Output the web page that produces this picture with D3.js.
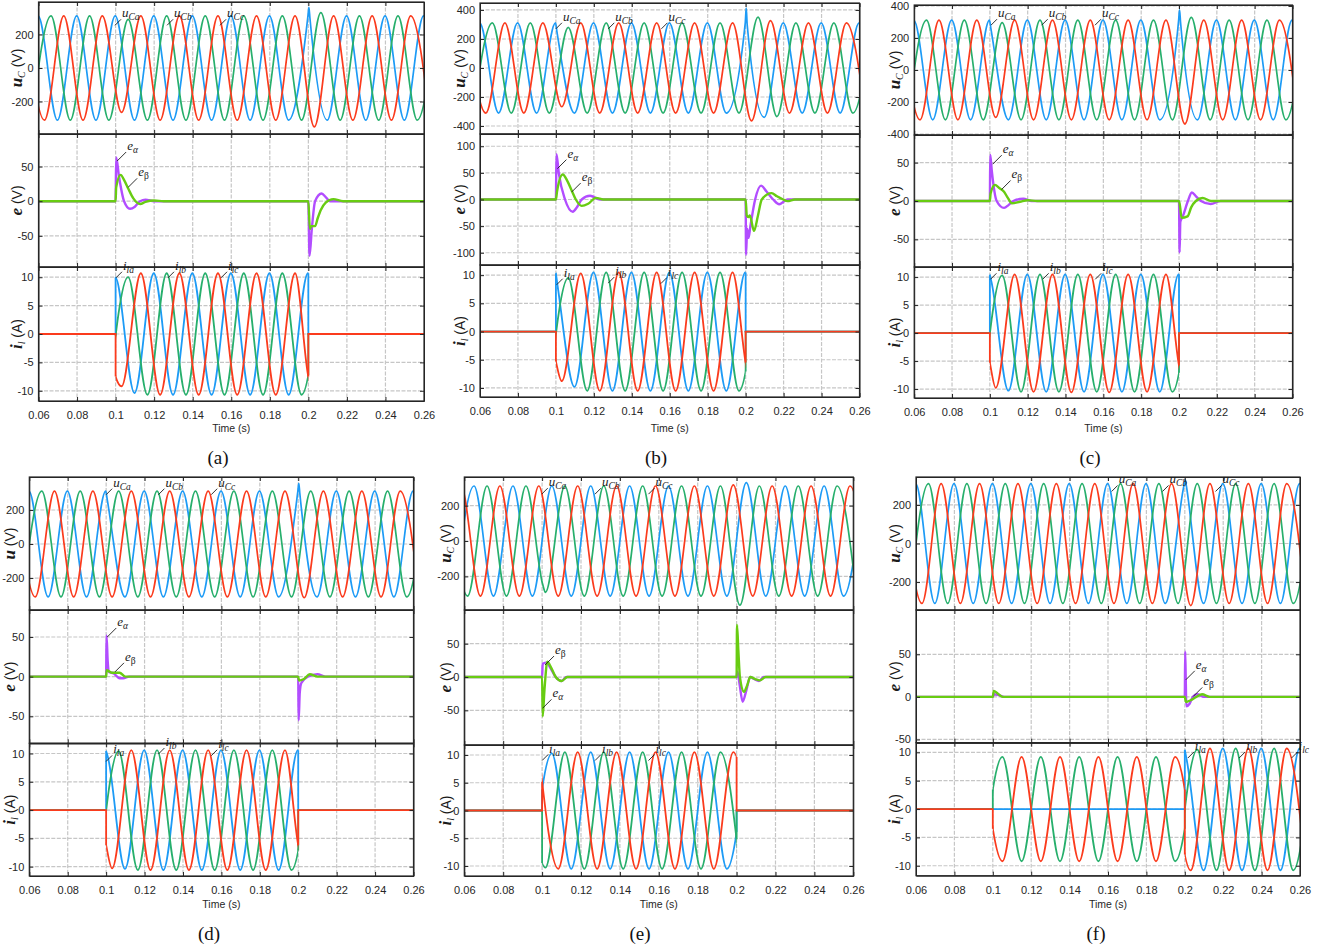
<!DOCTYPE html>
<html>
<head>
<meta charset="utf-8">
<script src="https://cdn.jsdelivr.net/npm/d3@7"></script>
<style>
  body { margin: 0; background: #fff; }
  svg { display: block; font-family: "Liberation Sans", Arial, Helvetica, sans-serif; }
  .tick text { font-size: 11px; fill: #262626; }
  .tick line, .domain { stroke: #262626; }
  .grid line { stroke: #c6c6c6; stroke-width: 1.2; stroke-dasharray: 4 1.5; }
  .box { fill: none; stroke: #262626; stroke-width: 1.2; }
  .note { font-family: "Liberation Serif", "Times New Roman", serif; font-style: italic; font-size: 13px; fill: #1a1a1a; }
  .leader { stroke: #1a1a1a; stroke-width: 0.9; }
  .ylab { font-size: 14px; fill: #1a1a1a; }
  .ylab .sym { font-family: "Liberation Serif", serif; font-weight: bold; font-style: italic; font-size: 17px; }
  .ylab .ysub { font-family: "Liberation Serif", serif; font-style: italic; font-size: 10px; }
  .xlab { font-size: 10.5px; fill: #262626; }
  .letter { font-family: "Liberation Serif", "Times New Roman", serif; font-size: 19px; fill: #111; }
</style>
</head>
<body>
<svg id="fig" width="1333" height="949"></svg>
<script>
const HALF = 0.01; // half period of the 50 Hz supply (s): extremes below are one every HALF
const T_DOMAIN = [0.06, 0.26];
const T_TICKS = [0.06, 0.08, 0.1, 0.12, 0.14, 0.16, 0.18, 0.2, 0.22, 0.24, 0.26];
const I_TICKS = [-10, -5, 0, 5, 10];

// time of the first listed extreme for phase a, b, c
const uT0 = [0.0498, 0.0565, 0.0531];
const uT0_e = [0.055, 0.0517, 0.0483];
const iT0 = [0.0898, 0.0965, 0.0931];
const iT0_e = [0.095, 0.0917, 0.0983];

// ---- capacitor voltages u_C (V), half-cycle extremes ----
const uCa_a = [-311, 311, -311, 311, -311, 311, -311, 311, -311, 311, -311, 311, -311, 311, -311, 311, -311, 311, -311, 311, -311, 311, -311];
const uCb_a = [-311, 311, -311, 311, -311, 290, -311, 311, -311, 311, -311, 311, -311, 311, -311, 330, -311, 311, -311, 311, -311, 311];
const uCc_a = [311, -311, 311, -311, 311, -265, 311, -311, 311, -311, 311, -311, 311, -311, 311, -352, 311, -311, 311, -311, 311, -311];
const uKick_a = [[0, 0.2003, 362], [0, 0.2008, 300]]; // [phase, t, u] spikes / notches

const uCa_b = [-311, 311, -311, 311, -311, 311, -311, 311, -311, 311, -311, 311, -311, 311, -311, 311, -340, 311, -311, 311, -311, 311, -311];
const uCb_b = [-311, 311, -311, 311, -311, 280, -311, 311, -311, 311, -311, 311, -311, 311, -311, 350, -335, 311, -311, 311, -311, 311];
const uCc_b = [311, -311, 311, -311, 311, -267, 311, -311, 311, -311, 311, -311, 311, -311, 311, -365, 326, -311, 311, -311, 311, -311];
const uKick_b = [[0, 0.1006, 245], [0, 0.2003, 412], [0, 0.2008, 300]];

const uCa_c = [-311, 311, -311, 311, -311, 311, -311, 311, -311, 311, -311, 311, -311, 311, -311, 311, -311, 311, -311, 311, -311, 311, -311];
const uCb_c = [-311, 311, -311, 311, -311, 296, -311, 311, -311, 311, -311, 311, -311, 311, -311, 329, -311, 311, -311, 311, -311, 311];
const uCc_c = [311, -311, 311, -311, 311, -296, 311, -311, 311, -311, 311, -311, 311, -311, 311, -337, 311, -311, 311, -311, 311, -311];
const uKick_c = [[0, 0.1006, 255], [0, 0.2003, 375], [0, 0.2008, 300]];

const uCa_d = [-311, 311, -311, 311, -311, 311, -311, 311, -311, 311, -311, 311, -311, 311, -311, 311, -311, 311, -311, 311, -311, 311, -311];
const uCb_d = [-311, 311, -311, 311, -311, 311, -311, 311, -311, 311, -311, 311, -311, 311, -311, 311, -311, 311, -311, 311, -311, 311];
const uCc_d = [311, -311, 311, -311, 311, -311, 311, -311, 311, -311, 311, -311, 311, -311, 311, -316, 311, -311, 311, -311, 311, -311];
const uKick_d = [[0, 0.1006, 259], [0, 0.2003, 357], [0, 0.2008, 300]];

const uCa_e = [-311, 311, -311, 311, -311, 311, -311, 311, -311, 311, -311, 311, -311, 311, -311, 330, -311, 311, -311, 311, -311, 311];
const uCb_e = [311, -311, 311, -311, 311, -290, 311, -311, 311, -311, 311, -311, 311, -311, 311, -363, 311, -311, 311, -311, 311, -311];
const uCc_e = [-311, 311, -311, 311, -311, 311, -311, 311, -311, 311, -311, 311, -311, 311, -311, 318, -311, 311, -311, 311, -311, 311, -311];
const uKick_e = [[1, 0.1003, -245]];

const uCa_f = [-311, 311, -311, 311, -311, 311, -311, 311, -311, 311, -311, 311, -311, 311, -311, 311, -311, 311, -311, 311, -311, 311, -311];
const uCb_f = [-311, 311, -311, 311, -311, 311, -311, 311, -311, 311, -311, 311, -311, 311, -311, 311, -311, 311, -311, 311, -311, 311];
const uCc_f = [311, -311, 311, -311, 311, -311, 311, -311, 311, -311, 311, -311, 311, -311, 311, -322, 311, -311, 311, -311, 311, -311];
const uKick_f = [[0, 0.2003, 330], [0, 0.2008, 300]];

// ---- errors e_alpha (purple) / e_beta (green), [t, V] ----
const eA_a = [[0.06,0],[0.1,0],[0.1003,63],[0.1018,35],[0.1044,0],[0.1075,-11],[0.11,-8],[0.1127,0],[0.1155,2],[0.12,0],[0.2,0],[0.2006,-79],[0.2018,-40],[0.2035,0],[0.2069,11],[0.209,6],[0.2112,0],[0.26,0]];
const eB_a = [[0.06,0],[0.1,0],[0.1003,20],[0.1026,38],[0.1045,30],[0.1066,18],[0.1092,4],[0.1127,-4],[0.1155,-1],[0.12,1],[0.125,0],[0.2,0],[0.2008,-40],[0.2015,-36],[0.2035,-36],[0.2048,-25],[0.2064,-13],[0.209,-2],[0.213,3],[0.218,0],[0.26,0]];
const eA_b = [[0.06,0],[0.1,0],[0.1003,85],[0.1015,50],[0.1048,0],[0.1089,-23],[0.111,-15],[0.1136,0],[0.118,7],[0.1232,0],[0.2,0],[0.2002,-104],[0.2008,-55],[0.2015,-72],[0.2025,-50],[0.205,0],[0.2081,26],[0.211,15],[0.2145,0],[0.2177,-9],[0.222,0],[0.26,0]];
const eB_b = [[0.06,0],[0.1,0],[0.1006,15],[0.1036,47],[0.106,35],[0.1083,17],[0.1105,0],[0.1136,-12],[0.117,-8],[0.1211,3],[0.125,0],[0.2,0],[0.2006,-30],[0.2014,-33],[0.2022,-30],[0.2044,-59],[0.2065,-30],[0.2085,0],[0.2137,12],[0.2165,6],[0.2198,0],[0.222,-3],[0.226,0],[0.26,0]];
const eA_c = [[0.06,0],[0.1,0],[0.1002,60],[0.101,40],[0.1036,0],[0.1075,-9],[0.11,-5],[0.1124,0],[0.1177,3],[0.122,0],[0.2,0],[0.2003,-67],[0.2007,-27],[0.202,-20],[0.2047,0],[0.2068,11],[0.209,6],[0.2116,0],[0.2168,-4],[0.222,0],[0.26,0]];
const eB_c = [[0.06,0],[0.1,0],[0.1004,10],[0.1027,21],[0.105,17],[0.1075,12],[0.1095,4],[0.1116,-3],[0.1159,-1],[0.12,1],[0.125,0],[0.2,0],[0.2007,-10],[0.2013,-22],[0.2045,-20],[0.2065,-8],[0.2089,0],[0.2125,4],[0.217,0],[0.26,0]];
const eA_d = [[0.06,0],[0.1,0],[0.1002,52],[0.1008,20],[0.1014,6],[0.104,4],[0.107,-2],[0.1089,-2],[0.112,0],[0.2,0],[0.2002,-55],[0.2008,-20],[0.2016,-8],[0.205,0],[0.21,3],[0.214,0],[0.26,0]];
const eB_d = [[0.06,0],[0.1,0],[0.1003,8],[0.103,5],[0.107,5],[0.11,0],[0.2,0],[0.2004,-5],[0.203,-3],[0.206,3],[0.21,0],[0.26,0]];
const eA_e = [[0.06,0],[0.1,0],[0.1003,20],[0.1025,22],[0.104,15],[0.107,0],[0.11,-6],[0.1125,0],[0.2,0],[0.2004,8],[0.2015,-10],[0.2031,-37],[0.205,-20],[0.207,0],[0.209,-3],[0.2115,-6],[0.214,0],[0.26,0]];
const eB_e = [[0.06,0],[0.1,0],[0.1003,-59],[0.1012,-20],[0.1027,23],[0.1045,15],[0.107,0],[0.11,-6],[0.113,0],[0.2,0],[0.2002,78],[0.2009,40],[0.2017,0],[0.2038,-22],[0.2055,-12],[0.207,0],[0.2095,-3],[0.212,-5],[0.215,0],[0.26,0]];
const eA_f = [[0.06,0],[0.1,0],[0.1005,3],[0.103,2],[0.106,0],[0.2,0],[0.2002,53],[0.2005,20],[0.2008,-11],[0.2025,-8],[0.2042,0],[0.2065,3],[0.21,0],[0.26,0]];
const eB_f = [[0.06,0],[0.1,0],[0.1005,7],[0.1025,4],[0.1052,0],[0.2,0],[0.2006,-6],[0.203,-4],[0.206,0],[0.209,3],[0.213,0],[0.26,0]];

// ---- load currents i_l (A), half-cycle extremes while the load is connected ----
const ila_a = [-10.7, 10.0, -10.4, 10.7, -10.7, 10.7, -10.7, 10.7, -10.7, 10.7, -10.7, 10.7, -10.7];
const ilb_a = [-10.7, 10.0, -10.7, 10.7, -10.7, 10.7, -10.7, 10.7, -10.7, 10.7, -10.7, 10.7];
const ilc_a = [10.7, -9.2, 10.7, -10.7, 10.7, -10.7, 10.7, -10.7, 10.7, -10.7, 10.7, -10.7];
const iKick_a = [[2, 0.1, -7.5], [2, 0.2, -7.5]];

const ila_b = [-10.5, 10.5, -9.8, 10.5, -10.5, 10.5, -10.5, 10.5, -10.5, 10.5, -10.5, 10.5, -10.5];
const ilb_b = [-10.5, 9.5, -10.5, 10.5, -10.5, 10.5, -10.5, 10.5, -10.5, 10.5, -10.5, 10.5];
const ilc_b = [10.5, -8.8, 10.3, -10.5, 10.5, -10.5, 10.5, -10.5, 10.5, -10.5, 10.5, -10.5];
const iKick_b = [[0, 0.1008, 8.3], [2, 0.1, -5.3], [2, 0.2, -5.5]];

const ila_c = [-10.5, 10.5, -10.3, 10.5, -10.5, 10.5, -10.5, 10.5, -10.5, 10.5, -10.5, 10.5, -10.5];
const ilb_c = [-10.5, 10.3, -10.5, 10.5, -10.5, 10.5, -10.5, 10.5, -10.5, 10.5, -10.5, 10.5];
const ilc_c = [10.5, -9.8, 10.5, -10.5, 10.5, -10.6, 10.5, -10.6, 10.5, -10.5, 10.5, -10.5];
const iKick_c = [[0, 0.1008, 9.2], [2, 0.1, -5.3], [2, 0.2, -5.8]];

const ila_d = [-10.5, 10.5, -10.4, 10.6, -10.6, 10.6, -10.6, 10.6, -10.6, 10.6, -10.6, 10.6, -10.6];
const ilb_d = [-10.6, 10.4, -10.6, 10.6, -10.6, 10.6, -10.6, 10.6, -10.6, 10.6, -10.6, 10.6];
const ilc_d = [10.6, -10.3, 10.6, -10.6, 10.6, -10.6, 10.6, -10.6, 10.6, -10.6, 10.6, -10.6];
const iKick_d = [[0, 0.1008, 9.5], [2, 0.1, -6.2], [2, 0.2, -6.2]];

const ila_e = [-10.5, 10.3, -10.5, 10.5, -10.5, 10.5, -10.5, 10.5, -10.5, 10.5, -10.5, 10.5];
const ilb_e = [10.5, -10.3, 10.5, -10.5, 10.5, -10.5, 10.5, -10.5, 10.5, -10.5, 10.5, -10.5];
const ilc_e = [10.5, -10.5, 10.5, -10.5, 10.5, -10.5, 10.5, -10.5, 10.5, -10.5, 10.5, -10.5];
const iKick_e = [];

// (f): single-phase load b-c from 0.1 s, three-phase load from 0.2 s
const ila_f = [-10.7, 10.5, -10.8, 10.7, -10.8, 10.7, -10.8, 10.7, -10.7];
const ilb_f1 = [-9.2, 9.2, -9.2, 9.2, -9.2, 9.2, -9.2, 9.2, -9.2, 9.2, -9.2, 9.2];
const ilc_f1 = [9.2, -9.2, 9.2, -9.2, 9.2, -9.2, 9.2, -9.2, 9.2, -9.2, 9.2, -9.2];
const ilb_f2 = [-10.7, 10.5, -10.8, 10.7, -10.8, 10.7, -10.8, 10.7];
const ilc_f2 = [10.7, -10.8, 10.7, -10.8, 10.7, -10.8, 10.7, -10.8];
const iKick_f = [[0, 0.2008, 9.0]];

const PHASE_COLORS = ["#1d9bf6", "#27af6c", "#fb3b1d"];
const E_COLORS = ["#b24dff", "#68cc12"];

function threePhase(t0, vals, kick, win) {
  return vals.map((ext, ph) => ({ ph, t0: t0[ph], ext, win, kick: kick.filter(k => k[0] === ph) }));
}

const panels = [
  { key: "a", x: [38.5, 424], rows: [[2, 134], [134, 267], [267, 401]],
    uDom: [-394, 394], uTicks: [-200, 0, 200], eDom: [-95, 97], eTicks: [-50, 0, 50], iDom: [-11.8, 11.8],
    u: [uCa_a, uCb_a, uCc_a], uT0: uT0, uKick: uKick_a, e: [eA_a, eB_a],
    i: threePhase(iT0, [ila_a, ilb_a, ilc_a], iKick_a, [0.1, 0.2]),
    uName: "C", labX: 17, timeY: 428, letter: [218, 457],
    uNote: [0.0997, 0.1267, 0.1542], uNoteV: 255,
    eNote: [[0.1008, 58, "α"], [0.1065, 20, "β"]],
    iNote: [[0.1002, 9.9], [0.1272, 9.9], [0.1547, 9.9]] },
  { key: "b", x: [480, 859.5], rows: [[3, 134], [134, 265], [265, 397]],
    uDom: [-455, 448], uTicks: [-400, -200, 0, 200, 400], eDom: [-123, 123], eTicks: [-100, -50, 0, 50, 100], iDom: [-11.6, 11.8],
    u: [uCa_b, uCb_b, uCc_b], uT0: uT0, uKick: uKick_b, e: [eA_b, eB_b],
    i: threePhase(iT0, [ila_b, ilb_b, ilc_b], iKick_b, [0.1, 0.2]),
    uName: "C", labX: 460, timeY: 428, letter: [656, 457],
    uNote: [0.1, 0.1276, 0.1556], uNoteV: 270,
    eNote: [[0.1008, 58, "α"], [0.1083, 14, "β"]],
    iNote: [[0.1004, 8.3], [0.1276, 8.6], [0.1553, 8.5]] },
  { key: "c", x: [914.2, 1292.5], rows: [[5, 135], [135, 267], [267, 398]],
    uDom: [-406, 406], uTicks: [-400, -200, 0, 200, 400], eDom: [-86, 86], eTicks: [-50, 0, 50], iDom: [-11.6, 11.8],
    u: [uCa_c, uCb_c, uCc_c], uT0: uT0, uKick: uKick_c, e: [eA_c, eB_c],
    i: threePhase(iT0, [ila_c, ilb_c, ilc_c], iKick_c, [0.1, 0.2]),
    uName: "C", labX: 895, timeY: 428, letter: [1090, 457],
    uNote: [0.1006, 0.1274, 0.1556], uNoteV: 280,
    eNote: [[0.1015, 48, "α"], [0.1062, 15, "β"]],
    iNote: [[0.1003, 9.6], [0.1279, 9.6], [0.1557, 9.6]] },
  { key: "d", x: [29.3, 413.5], rows: [[477, 610], [610, 743.3], [743.3, 876]],
    uDom: [-388, 394], uTicks: [-200, 0, 200], eDom: [-84, 84], eTicks: [-50, 0, 50], iDom: [-11.65, 11.8],
    u: [uCa_d, uCb_d, uCc_d], uT0: uT0, uKick: uKick_d, e: [eA_d, eB_d],
    i: threePhase(iT0, [ila_d, ilb_d, ilc_d], iKick_d, [0.1, 0.2]),
    uName: "", labX: 10, timeY: 904.5, letter: [209, 933],
    uNote: [0.1, 0.1272, 0.1547], uNoteV: 290,
    eNote: [[0.1006, 50, "α"], [0.1046, 6, "β"]],
    iNote: [[0.1, 8.6], [0.1272, 9.9], [0.1547, 9.6]] },
  { key: "e", x: [464.3, 853.3], rows: [[477, 610], [610, 745], [745, 876]],
    uDom: [-390, 362], uTicks: [-200, 0, 200], eDom: [-102, 100.6], eTicks: [-50, 0, 50], iDom: [-11.8, 11.8],
    u: [uCa_e, uCb_e, uCc_e], uT0: uT0_e, uKick: uKick_e, e: [eA_e, eB_e],
    i: threePhase(iT0_e, [ila_e, ilb_e, ilc_e], iKick_e, [0.1, 0.2]),
    uName: "C", labX: 446, timeY: 904.5, letter: [640, 933],
    uNote: [0.0998, 0.1272, 0.1547], uNoteV: 265,
    eNote: [[0.1015, 18, "β"], [0.1002, -47, "α"]],
    iNote: [[0.1, 9], [0.1272, 9], [0.1547, 9]] },
  { key: "f", x: [916, 1300], rows: [[477, 610], [610, 742.7], [742.7, 875.7]],
    uDom: [-345, 345], uTicks: [-200, 0, 200], eDom: [-53.8, 102], eTicks: [-50, 0, 50], iDom: [-11.75, 11.7],
    u: [uCa_f, uCb_f, uCc_f], uT0: uT0, uKick: uKick_f, e: [eA_f, eB_f],
    i: [
      { ph: 0, t0: 0.1898, ext: ila_f, win: [0.2, 0.26], kick: iKick_f.filter(k => k[0] === 0) },
      { ph: 1, t0: 0.095, ext: ilb_f1, win: [0.1, 0.2], kick: [] },
      { ph: 1, t0: 0.1965, ext: ilb_f2, win: [0.2, 0.26], kick: [] },
      { ph: 2, t0: 0.095, ext: ilc_f1, win: [0.1, 0.2], kick: [] },
      { ph: 2, t0: 0.1931, ext: ilc_f2, win: [0.2, 0.26], kick: [] }
    ],
    uName: "C", labX: 895, timeY: 904.5, letter: [1096, 933],
    uNote: [0.1619, 0.1884, 0.216], uNoteV: 270,
    eNote: [[0.2005, 20, "α"], [0.2044, 0.5, "β"]],
    iNote: [[0.2016, 9], [0.2283, 9], [0.2556, 9]] }
];

const svg = d3.select("#fig");
const defs = svg.append("defs");
const straight = d3.line();
const byTime = (a, b) => a[0] - b[0];

panels.forEach(drawPanel);

function drawPanel(p) {
  const g = svg.append("g").attr("class", "panel-" + p.key);
  const x = d3.scaleLinear().domain(T_DOMAIN).range(p.x);
  const ys = [p.uDom, p.eDom, p.iDom].map((dom, r) =>
    d3.scaleLinear().domain(dom).range([p.rows[r][1], p.rows[r][0]]));
  const yTicks = [p.uTicks, p.eTicks, I_TICKS];

  // grid + clip for each subplot
  const clips = ys.map((y, r) => {
    const gg = g.append("g").attr("class", "grid");
    gg.selectAll(".v").data(T_TICKS.slice(1, -1)).join("line")
      .attr("x1", d => x(d)).attr("x2", d => x(d)).attr("y1", p.rows[r][0]).attr("y2", p.rows[r][1]);
    gg.selectAll(".h").data(yTicks[r]).join("line")
      .attr("x1", p.x[0]).attr("x2", p.x[1]).attr("y1", d => y(d)).attr("y2", d => y(d));
    const id = `clip-${p.key}-${r}`;
    defs.append("clipPath").attr("id", id).append("rect")
      .attr("x", p.x[0]).attr("y", p.rows[r][0]).attr("width", p.x[1] - p.x[0]).attr("height", p.rows[r][1] - p.rows[r][0]);
    return id;
  });

  // phase voltages
  const lu = d3.line().curve(d3.curveMonotoneX).x(d => x(d[0])).y(d => ys[0](d[1]));
  const gu = g.append("g").attr("clip-path", `url(#${clips[0]})`);
  p.u.forEach((vals, ph) => {
    const pts = vals.map((v, i) => [p.uT0[ph] + i * HALF, v])
      .concat(p.uKick.filter(k => k[0] === ph).map(k => [k[1], k[2]])).sort(byTime);
    gu.append("path").attr("d", lu(pts)).attr("fill", "none")
      .attr("stroke", PHASE_COLORS[ph]).attr("stroke-width", 1.7);
  });

  // errors
  const le = d3.line().curve(d3.curveMonotoneX).x(d => x(d[0])).y(d => ys[1](d[1]));
  const ge = g.append("g").attr("clip-path", `url(#${clips[1]})`);
  p.e.forEach((pts, k) => {
    ge.append("path").attr("d", le(pts)).attr("fill", "none")
      .attr("stroke", E_COLORS[k]).attr("stroke-width", 2.4).attr("stroke-linejoin", "round");
  });

  // load currents
  drawCurrents(g, p, x, ys[2], clips[2]);

  // axes and boxes
  ys.forEach((y, r) => {
    const [top, bot] = p.rows[r];
    const ax = g.append("g");
    ax.append("g").attr("transform", `translate(${p.x[0]},0)`)
      .call(d3.axisLeft(y).tickValues(yTicks[r]).tickSize(-4).tickSizeOuter(0).tickPadding(5).tickFormat(d => String(d)));
    ax.append("g").attr("transform", `translate(${p.x[1]},0)`)
      .call(d3.axisRight(y).tickValues(yTicks[r]).tickSize(-4).tickSizeOuter(0).tickFormat(""));
    ax.append("g").attr("transform", `translate(0,${top})`)
      .call(d3.axisTop(x).tickValues(T_TICKS).tickSize(-4).tickSizeOuter(0).tickFormat(""));
    ax.append("g").attr("transform", `translate(0,${bot})`)
      .call(d3.axisBottom(x).tickValues(T_TICKS).tickSize(-4).tickSizeOuter(0).tickPadding(10.5)
        .tickFormat(r === 2 ? (d => String(d)) : ""));
    ax.append("rect").attr("class", "box")
      .attr("x", p.x[0]).attr("y", top).attr("width", p.x[1] - p.x[0]).attr("height", bot - top);
  });

  // y labels
  yLabel(g, p.labX, (p.rows[0][0] + p.rows[0][1]) / 2, "u", p.uName, "(V)");
  yLabel(g, p.labX, (p.rows[1][0] + p.rows[1][1]) / 2, "e", "", "(V)");
  yLabel(g, p.labX, (p.rows[2][0] + p.rows[2][1]) / 2, "i", "l", "(A)");

  g.append("text").attr("class", "xlab").attr("x", (p.x[0] + p.x[1]) / 2).attr("y", p.timeY)
    .attr("dy", "0.35em").attr("text-anchor", "middle").text("Time (s)");
  g.append("text").attr("class", "letter").attr("x", p.letter[0]).attr("y", p.letter[1])
    .attr("dy", "0.35em").attr("text-anchor", "middle").text(`(${p.key})`);

  // curve annotations
  ["Ca", "Cb", "Cc"].forEach((s, k) => note(g, x(p.uNote[k]), ys[0](p.uNoteV), 6, -6, "u", s));
  p.eNote.forEach(([t, v, s]) => note(g, x(t), ys[1](v), 9, -9, "e", s));
  ["la", "lb", "lc"].forEach((s, k) => note(g, x(p.iNote[k][0]), ys[2](p.iNote[k][1]), 6, -6, "i", s));
}

function drawCurrents(g, p, x, y, clipId) {
  const gi = g.append("g").attr("clip-path", `url(#${clipId})`);
  const li = d3.line().curve(d3.curveMonotoneX).x(d => x(d[0])).y(d => y(d[1]));
  const y0 = y(0);
  [0, 1, 2].forEach(ph => {
    const segs = p.i.filter(s => s.ph === ph).sort((a, b) => a.win[0] - b.win[0]);
    const ends = segs.map((s, k) => {
      const pts = s.ext.map((v, i) => [s.t0 + i * HALF, v])
        .concat(s.kick.map(kk => [kk[1], kk[2]])).sort(byTime);
      const id = `${clipId}-${ph}-${k}`;
      defs.append("clipPath").attr("id", id).append("rect")
        .attr("x", x(s.win[0])).attr("width", x(s.win[1]) - x(s.win[0]))
        .attr("y", y.range()[1]).attr("height", y.range()[0] - y.range()[1]);
      const path = gi.append("g").attr("clip-path", `url(#${id})`).append("path")
        .attr("d", li(pts)).attr("fill", "none")
        .attr("stroke", PHASE_COLORS[ph]).attr("stroke-width", 1.8);
      return { x1: x(s.win[0]), x2: x(s.win[1]), y1: yAtX(path.node(), x(s.win[0])), y2: yAtX(path.node(), x(s.win[1])) };
    });
    // switching steps and the zero line while disconnected
    const pieces = [];
    let cur = [[x(T_DOMAIN[0]), y0]];
    ends.forEach(e => {
      const last = cur[cur.length - 1];
      if (e.x1 - last[0] > 0.5) {
        if (Math.abs(last[1] - y0) > 0.1) cur.push([last[0], y0]);
        cur.push([e.x1, y0]);
      }
      cur.push([e.x1, e.y1]);
      pieces.push(cur);
      cur = [[e.x2, e.y2]];
    });
    if (x(T_DOMAIN[1]) - cur[0][0] > 0.5) {
      cur.push([cur[0][0], y0], [x(T_DOMAIN[1]), y0]);
      pieces.push(cur);
    }
    pieces.forEach(pc => gi.append("path").attr("d", straight(pc)).attr("fill", "none")
      .attr("stroke", PHASE_COLORS[ph]).attr("stroke-width", 1.8));
  });
}

function yAtX(node, px) {
  let lo = 0, hi = node.getTotalLength();
  for (let k = 0; k < 40; k++) {
    const mid = (lo + hi) / 2;
    if (node.getPointAtLength(mid).x < px) lo = mid; else hi = mid;
  }
  return node.getPointAtLength((lo + hi) / 2).y;
}

function yLabel(g, cx, cy, sym, sub, unit) {
  const t = g.append("text").attr("class", "ylab").attr("text-anchor", "middle")
    .attr("transform", `translate(${cx},${cy}) rotate(-90)`).attr("dy", "0.35em");
  t.append("tspan").attr("class", "sym").text(sym);
  if (sub) {
    t.append("tspan").attr("class", "ysub").attr("dy", 3).text(sub);
    t.append("tspan").attr("dy", -3).text(" " + unit);
  } else {
    t.append("tspan").text(" " + unit);
  }
}

function note(g, px, py, dx, dy, main, sub) {
  g.append("line").attr("class", "leader")
    .attr("x1", px).attr("y1", py).attr("x2", px + dx).attr("y2", py + dy);
  const t = g.append("text").attr("class", "note").attr("x", px + dx + 1).attr("y", py + dy - 2);
  t.append("tspan").text(main);
  t.append("tspan").attr("dy", 3).attr("font-size", 9.5)
    .attr("font-style", sub === "β" ? "normal" : null).text(sub);
}
</script>
</body>
</html>
